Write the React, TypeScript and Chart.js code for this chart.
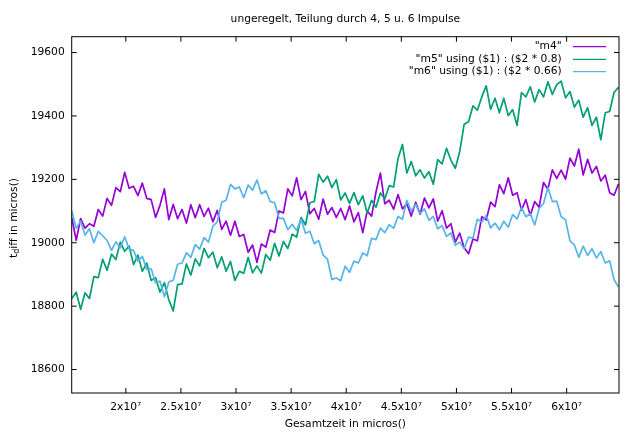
import { useEffect, useRef } from "react";
import { Chart, registerables } from "chart.js";

Chart.register(...registerables);

const chartTitle = "ungeregelt, Teilung durch 4, 5 u. 6 Impulse";
const xTitle = "Gesamtzeit in micros()";
const seriesLabels = ['"m4"', '"m5" using ($1) : ($2 * 0.8)', '"m6" using ($1) : ($2 * 0.66)'];
const seriesColors = ["#9400d3", "#009e73", "#56b4e9"];

const yTicks = [18600, 18800, 19000, 19200, 19400, 19600];
const xTicks = [20000000, 25000000, 30000000, 35000000, 40000000, 45000000, 50000000, 55000000, 60000000];
const xTickLabels = ["2x10⁷", "2.5x10⁷", "3x10⁷", "3.5x10⁷", "4x10⁷", "4.5x10⁷", "5x10⁷", "5.5x10⁷", "6x10⁷"];

const times = [
  15100000, 15500000, 15900000, 16300000, 16700000, 17100000, 17500000, 17900000, 18300000, 18700000,
  19100000, 19500000, 19900000, 20300000, 20700000, 21100000, 21500000, 21900000, 22300000, 22700000,
  23100000, 23500000, 23900000, 24300000, 24700000, 25100000, 25500000, 25900000, 26300000, 26700000,
  27100000, 27500000, 27900000, 28300000, 28700000, 29100000, 29500000, 29900000, 30300000, 30700000,
  31100000, 31500000, 31900000, 32300000, 32700000, 33100000, 33500000, 33900000, 34300000, 34700000,
  35100000, 35500000, 35900000, 36300000, 36700000, 37100000, 37500000, 37900000, 38300000, 38700000,
  39100000, 39500000, 39900000, 40300000, 40700000, 41100000, 41500000, 41900000, 42300000, 42700000,
  43100000, 43500000, 43900000, 44300000, 44700000, 45100000, 45500000, 45900000, 46300000, 46700000,
  47100000, 47500000, 47900000, 48300000, 48700000, 49100000, 49500000, 49900000, 50300000, 50700000,
  51100000, 51500000, 51900000, 52300000, 52700000, 53100000, 53500000, 53900000, 54300000, 54700000,
  55100000, 55500000, 55900000, 56300000, 56700000, 57100000, 57500000, 57900000, 58300000, 58700000,
  59100000, 59500000, 59900000, 60300000, 60700000, 61100000, 61500000, 61900000, 62300000, 62700000,
  63100000, 63500000, 63900000, 64300000, 64700000,
];

const m4 = [
  19078, 19008, 19076, 19046, 19060, 19052, 19105, 19084, 19140, 19118,
  19174, 19161, 19222, 19172, 19178, 19149, 19188, 19140, 19136, 19080,
  19118, 19170, 19073, 19121, 19076, 19105, 19062, 19120, 19079, 19120,
  19083, 19109, 19066, 19102, 19042, 19068, 19024, 19068, 19020, 19026,
  18970, 18993, 18938, 18996, 18986, 19040, 19032, 19100, 19094, 19170,
  19148, 19205, 19136, 19162, 19092, 19108, 19074, 19138, 19090, 19111,
  19080, 19108, 19073, 19116, 19066, 19095, 19032, 19100, 19084, 19160,
  19220, 19123, 19134, 19106, 19152, 19107, 19123, 19084, 19128, 19090,
  19141, 19110, 19138, 19068, 19101, 19046, 19060, 19002, 19030, 18984,
  18965, 19012, 19006, 19082, 19072, 19128, 19114, 19183, 19155, 19205,
  19150, 19158, 19103, 19136, 19086, 19130, 19112, 19190, 19169, 19230,
  19203, 19229, 19201, 19267, 19242, 19295, 19214, 19263, 19220, 19241,
  19195, 19213, 19158, 19150, 19185,
];

const m5 = [
  18824, 18844, 18790, 18842, 18824, 18893, 18890, 18948, 18913, 18964,
  18947, 19002, 18973, 18990, 18931, 18961, 18910, 18936, 18881, 18890,
  18844, 18874, 18820, 18785, 18868, 18870, 18933, 18898, 18949, 18927,
  18982, 18953, 18970, 18921, 18956, 18910, 18941, 18881, 18910, 18904,
  18954, 18905, 18927, 18904, 18963, 18945, 18998, 18958, 19004, 18982,
  19027, 19018, 19080, 19056, 19126, 19130, 19216, 19191, 19210, 19174,
  19199, 19135, 19157, 19124, 19158, 19120, 19148, 19093, 19134, 19112,
  19157, 19138, 19180, 19176, 19266, 19310, 19220, 19256, 19211, 19230,
  19204, 19224, 19185, 19262, 19249, 19298, 19260, 19235, 19288, 19374,
  19382, 19432, 19418, 19460, 19495, 19421, 19456, 19410, 19456, 19401,
  19420, 19370, 19474, 19460, 19492, 19444, 19483, 19460, 19508, 19468,
  19499, 19510, 19457, 19477, 19428, 19450, 19396, 19426, 19370, 19396,
  19325, 19410, 19414, 19474, 19490,
];

const m6 = [
  19100, 19046, 19068, 19024, 19044, 19000, 19036, 19022, 19007, 18976,
  19003, 18984, 19019, 18980, 18976, 18942, 18957, 18916, 18918, 18874,
  18879, 18830, 18876, 18882, 18932, 18936, 18968, 18954, 18994, 18980,
  19016, 19002, 19052, 19066, 19128, 19134, 19184, 19170, 19176, 19142,
  19182, 19166, 19198, 19154, 19164, 19130, 19126, 19077, 19077, 19041,
  19058, 19039, 19074, 19030, 19036, 18997, 19007, 18961, 18948, 18884,
  18889, 18880, 18926, 18907, 18942, 18936, 18968, 18959, 19014, 19010,
  19046, 19032, 19057, 19046, 19083, 19074, 19134, 19100, 19121, 19092,
  19107, 19071, 19083, 19044, 19054, 19020, 19031, 18992, 19002, 18981,
  19018, 19014, 19074, 19065, 19086, 19047, 19062, 19041, 19068, 19049,
  19089, 19075, 19111, 19082, 19092, 19056, 19108, 19124, 19174, 19130,
  19131, 19082, 19072, 19006, 18993, 18954, 18989, 18960, 18981, 18952,
  18972, 18936, 18943, 18884, 18860,
];

const X_MIN = 15090000;
const X_MAX = 64750000;
const Y_MIN = 18526;
const Y_MAX = 19650;

const FONT = '"DejaVu Sans", sans-serif';
const FS = 10.7;

const gnuPlugin = {
  id: "gnuplotDecor",
  beforeDatasetsDraw(chart: any) {
    const ctx = chart.ctx;
    ctx.save();
    ctx.font = `${FS}px ${FONT}`;
    ctx.fillStyle = "#000";
    ctx.textAlign = "right";
    ctx.textBaseline = "middle";
    const rowsY = [46.7, 59.3, 71.7];
    seriesLabels.forEach((lab, i) => {
      ctx.fillText(lab, 561.7, rowsY[i]);
      ctx.strokeStyle = seriesColors[i];
      ctx.lineWidth = 1.3;
      ctx.beginPath();
      ctx.moveTo(573, rowsY[i]);
      ctx.lineTo(606, rowsY[i]);
      ctx.stroke();
    });
    ctx.restore();
  },
  afterDraw(chart: any) {
    const ctx = chart.ctx;
    const a = chart.chartArea;
    const xs = chart.scales.x;
    const ys = chart.scales.y;
    ctx.save();
    ctx.strokeStyle = "#000";
    ctx.lineWidth = 1;
    ctx.strokeRect(a.left, a.top, a.right - a.left, a.bottom - a.top);
    const tl = 5;
    ctx.beginPath();
    yTicks.forEach((v) => {
      const y = ys.getPixelForValue(v);
      ctx.moveTo(a.left, y);
      ctx.lineTo(a.left + tl, y);
      ctx.moveTo(a.right, y);
      ctx.lineTo(a.right - tl, y);
    });
    xTicks.forEach((v) => {
      const x = xs.getPixelForValue(v);
      ctx.moveTo(x, a.bottom);
      ctx.lineTo(x, a.bottom - tl);
      ctx.moveTo(x, a.top);
      ctx.lineTo(x, a.top + tl);
    });
    ctx.stroke();

    ctx.fillStyle = "#000";
    ctx.font = `${FS}px ${FONT}`;
    ctx.textAlign = "center";
    ctx.textBaseline = "middle";
    const cx = (a.left + a.right) / 2;
    ctx.fillText(chartTitle, cx, 19);
    ctx.fillText(xTitle, cx, 424);

    // y axis label with subscript
    ctx.save();
    ctx.translate(14, 218);
    ctx.rotate(-Math.PI / 2);
    ctx.textAlign = "left";
    const p1 = "t";
    const p2 = "d";
    const p3 = "iff in micros()";
    ctx.font = `${FS}px ${FONT}`;
    const w1 = ctx.measureText(p1).width;
    const w3 = ctx.measureText(p3).width;
    ctx.font = `${FS * 0.75}px ${FONT}`;
    const w2 = ctx.measureText(p2).width;
    const total = w1 + w2 + w3;
    let sx = -total / 2;
    ctx.font = `${FS}px ${FONT}`;
    ctx.fillText(p1, sx, 0);
    sx += w1;
    ctx.font = `${FS * 0.75}px ${FONT}`;
    ctx.fillText(p2, sx, 3);
    sx += w2;
    ctx.font = `${FS}px ${FONT}`;
    ctx.fillText(p3, sx, 0);
    ctx.restore();

    ctx.restore();
  },
};

export default function App() {
  const ref = useRef<HTMLCanvasElement | null>(null);
  useEffect(() => {
    if (!ref.current) return;
    const mk = (vals: number[]) => vals.map((v, i) => ({ x: times[i], y: v }));
    const common = { borderWidth: 1.7, pointRadius: 0, tension: 0, borderJoinStyle: "round" as const };
    const chart = new Chart(ref.current, {
      type: "line",
      data: {
        datasets: [
          { label: seriesLabels[0], data: mk(m4), borderColor: seriesColors[0], order: 3, ...common },
          { label: seriesLabels[1], data: mk(m5), borderColor: seriesColors[1], order: 2, ...common },
          { label: seriesLabels[2], data: mk(m6), borderColor: seriesColors[2], order: 1, ...common },
        ],
      },
      options: {
        responsive: false,
        animation: false,
        events: [],
        layout: { padding: { left: 0, top: 36.7, right: 21, bottom: 0 } },
        plugins: { legend: { display: false }, title: { display: false }, tooltip: { enabled: false } },
        scales: {
          x: {
            type: "linear",
            min: X_MIN,
            max: X_MAX,
            grid: { display: false, drawTicks: false },
            border: { display: false },
            afterFit: (s: any) => { s.height = 39; },
            afterBuildTicks: (s: any) => { s.ticks = xTicks.map((v) => ({ value: v })); },
            ticks: {
              padding: 8,
              color: "#000",
              font: { family: FONT, size: FS },
              maxRotation: 0,
              autoSkip: false,
              callback: (v: any) => {
                const i = xTicks.indexOf(Number(v));
                return i >= 0 ? xTickLabels[i] : "";
              },
            },
          },
          y: {
            type: "linear",
            min: Y_MIN,
            max: Y_MAX,
            grid: { display: false, drawTicks: false },
            border: { display: false },
            afterFit: (s: any) => { s.width = 71.7; },
            afterBuildTicks: (s: any) => { s.ticks = yTicks.map((v) => ({ value: v })); },
            ticks: {
              padding: 7,
              color: "#000",
              font: { family: FONT, size: FS },
              autoSkip: false,
              callback: (v: any) => String(v),
            },
          },
        },
      },
      plugins: [gnuPlugin],
    } as any);
    return () => chart.destroy();
  }, []);
  return (
    <div style={{ position: "fixed", left: 0, top: 0, width: 640, height: 432, background: "#fff" }}>
      <canvas ref={ref} width={640} height={432} style={{ width: 640, height: 432, display: "block" }} />
    </div>
  );
}
